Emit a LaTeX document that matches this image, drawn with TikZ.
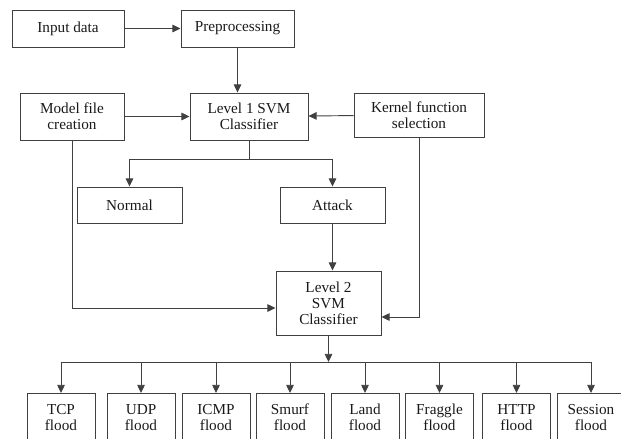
\documentclass[tikz,border=0pt]{standalone}
\usepackage{fontspec}
\setmainfont{Liberation Serif}
\usetikzlibrary{arrows.meta}

\newcommand{\px}{0.03cm}
\tikzset{
    blk/.style={draw=black!75, line width=0.8pt, align=center, inner sep=0pt,
        font=\fontsize{13}{13.5}\selectfont, text=black!90},
    arr/.style={draw=black!75, line width=0.8pt, -{Triangle[length=7pt,width=6.5pt]}},
    ln/.style={draw=black!75, line width=0.8pt}
}

\begin{document}
\begin{tikzpicture}[x=\px, y=-\px]
    \useasboundingbox (0,0) rectangle (621,438);
    \clip (0,0) rectangle (621,438);

    % top part
    \node[blk, minimum width=112*\px, minimum height=37*\px] (in) at (68,28.5) {Input data};
    \node[blk, minimum width=113*\px, minimum height=37*\px] (pre) at (237.5,28.5) {Preprocessing};
    \node[blk, minimum width=104*\px, minimum height=47*\px] (model) at (72,116.5) {Model file\\creation};
    \node[blk, minimum width=118*\px, minimum height=47*\px] (lvl1) at (249,116.5) {Level 1 SVM\\Classifier};
    \node[blk, minimum width=130*\px, minimum height=44*\px] (kern) at (419,115) {Kernel function\\selection};
    \node[blk, minimum width=105*\px, minimum height=36*\px] (normal) at (129.5,205) {Normal};
    \node[blk, minimum width=105*\px, minimum height=36*\px] (attack) at (332.5,205) {Attack};
    \node[blk, minimum width=105*\px, minimum height=64*\px] (lvl2) at (328.5,303) {Level 2\\SVM\\Classifier};

    \draw[arr] (in) -- (pre);
    \draw[arr] (pre) -- (pre |- lvl1.north);
    \draw[arr] (model) -- (lvl1);
    \draw[arr] (kern) -- (lvl1);
    \draw[arr] (lvl1.south) -- ++(0,19) -| (normal.north);
    \draw[arr] (lvl1.south) ++(0,19) -| (attack.north);
    \draw[arr] (attack) -- (attack |- lvl2.north);
    \draw[arr] (model.south) |- ([yshift=-5*\px]lvl2.west);
    \draw[arr] (kern.south) |- ([yshift=-14*\px]lvl2.east);

    % flood types
    \foreach \n/\cx/\t in {tcp/61/TCP, udp/141/UDP, icmp/216/ICMP, smurf/290/Smurf,
                           land/365/Land, fraggle/439.5/Fraggle, http/516.5/HTTP, sess/591/Session} {
        \node[blk, minimum width=68*\px, minimum height=48*\px, anchor=north] (\n) at (\cx,393) {\t\\flood};
    }
    \coordinate (bus) at (lvl2 |- 0,362);
    \draw[arr] (lvl2) -- (bus);
    \draw[ln] (tcp |- bus) -- (sess |- bus);
    \foreach \n in {tcp,udp,icmp,smurf,land,fraggle,http,sess} {
        \draw[arr] (\n |- bus) -- (\n.north);
    }
\end{tikzpicture}
\end{document}
